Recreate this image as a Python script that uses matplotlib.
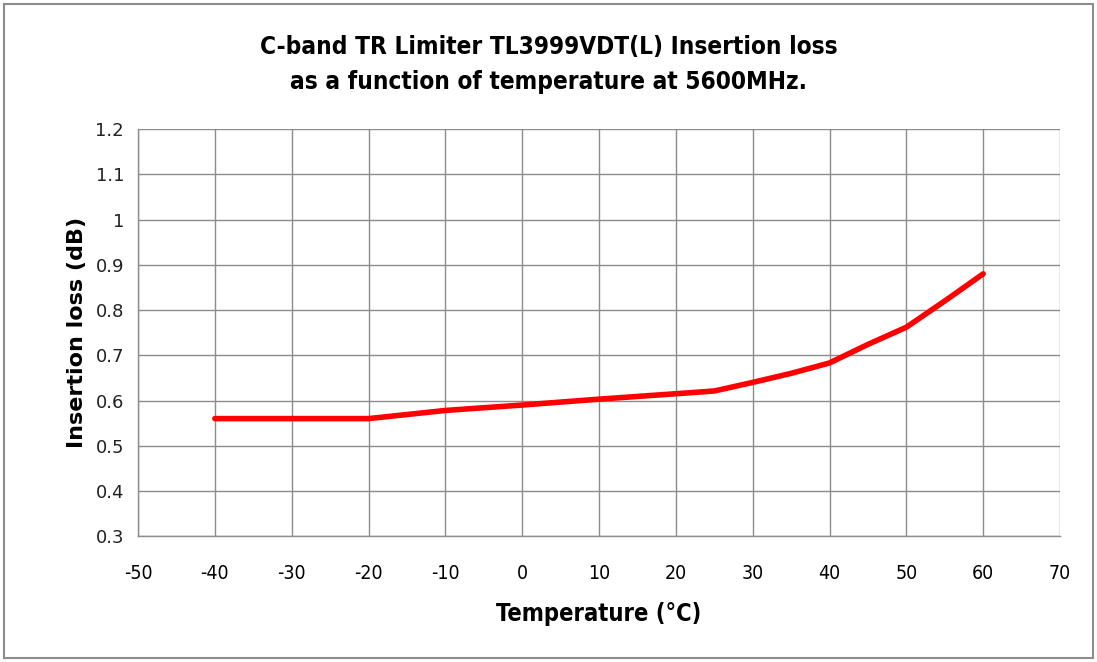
import numpy as np
import matplotlib
matplotlib.use("Agg")
import matplotlib.pyplot as plt
from matplotlib.patches import Rectangle

# temperature (C) vs insertion loss (dB)
temp = [-40, -30, -20, -10, 0, 10, 20, 25, 30, 35, 40, 45, 50, 55, 60]
loss = [0.56, 0.56, 0.56, 0.578, 0.59, 0.603, 0.615, 0.621, 0.64, 0.66, 0.683, 0.724, 0.762, 0.82, 0.88]

x_ticks = list(range(-50, 71, 10))
y_ticks = [0.3, 0.4, 0.5, 0.6, 0.7, 0.8, 0.9, 1.0, 1.1, 1.2]
y_labels = ["0.3", "0.4", "0.5", "0.6", "0.7", "0.8", "0.9", "1", "1.1", "1.2"]

GRID = "#8c8c8c"

fig = plt.figure(figsize=(10.97, 6.62), dpi=100, facecolor="white")
ax = fig.add_axes([0.1258, 0.190, 0.8405, 0.615])

ax.plot(temp, loss, color="#ff0000", lw=4, solid_capstyle="round", solid_joinstyle="round", zorder=3)

ax.set_xlim(-50, 70)
ax.set_ylim(0.3, 1.2)
ax.set_xticks(x_ticks)
ax.set_xticklabels([str(t) for t in x_ticks], family="DejaVu Sans", fontstretch="condensed", fontsize=14)
ax.set_yticks(y_ticks)
ax.set_yticklabels(y_labels, family="DejaVu Sans", fontsize=13, color="#222222")
ax.tick_params(length=0, pad=10)
ax.tick_params(axis="x", pad=20)
ax.grid(True, color=GRID, lw=1)
ax.set_axisbelow(True)
for side in ["top", "right"]:
    ax.spines[side].set_visible(False)
for side in ["left", "bottom"]:
    ax.spines[side].set_color(GRID)
    ax.spines[side].set_linewidth(1)

ax.set_xlabel("Temperature (\u00b0C)", family="DejaVu Sans", fontstretch="condensed",
              fontsize=17, fontweight="bold", labelpad=14)
ax.set_ylabel("Insertion loss (dB)", family="DejaVu Sans", fontsize=16, fontweight="bold", labelpad=6)

fig.text(0.5, 0.903, "C-band TR Limiter TL3999VDT(L) Insertion loss\nas a function of temperature at 5600MHz.",
         ha="center", va="center", family="DejaVu Sans", fontstretch="condensed",
         fontsize=17.5, fontweight="bold", linespacing=1.6)

# outer chart frame
fig.patches.append(Rectangle((0.004, 0.006), 0.992, 0.988, transform=fig.transFigure,
                             fill=False, edgecolor="#8c8c8c", lw=1.5))

fig.savefig("out.png", dpi=100, facecolor="white")
